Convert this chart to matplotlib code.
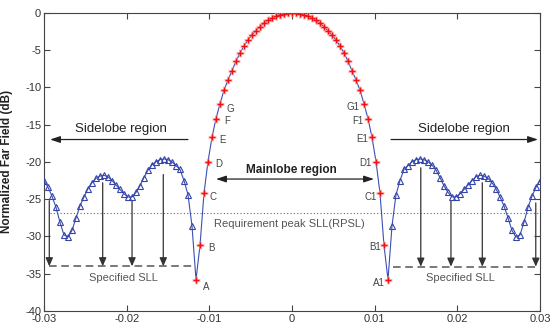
import numpy as np
import matplotlib
matplotlib.use("Agg")
import matplotlib.pyplot as plt

plt.rcParams['font.family'] = ['Liberation Sans', 'DejaVu Sans']
plt.rcParams['axes.unicode_minus'] = False

# ---- data (half pattern, k = 0 .. 62 from boresight; pattern is symmetric) ----
main_half = [0.0, -0.03, -0.11, -0.25, -0.45, -0.7, -1.0, -1.42, -1.87, -2.4,
             -2.98, -3.65, -4.45, -5.4, -6.5, -7.76, -9.0, -10.4, -12.2, -14.2,
             -16.7, -19.95, -24.2, -31.2, -35.8]
side_half = [-28.6, -24.4, -22.5, -21.0, -20.5, -20.0, -19.7, -19.6, -19.7, -20.0,
             -20.4, -21.1, -22.1, -23.2, -24.1, -24.7, -24.7, -24.3, -23.7, -23.1,
             -22.5, -22.0, -21.8, -21.9, -22.2, -22.8, -23.6, -24.7, -25.9, -27.5,
             -29.2, -30.1, -29.8, -28.1, -26.1, -24.6, -23.4, -22.5]
u_max = 0.03
n_main = len(main_half)

half = np.array(main_half + side_half)
ff = np.concatenate([half[::-1], half[1:]])
u = np.linspace(-u_max, u_max, len(ff))
kk = np.abs(np.arange(len(ff)) - (len(ff) - 1) // 2)
is_main = kk < n_main

rpsl = -26.8
sll_left = -34.0
sll_right = -34.05

left_labels = ['A', 'B', 'C', 'D', 'E', 'F', 'G']
left_label_pos = [(-0.0104, -36.8), (-0.00976, -31.6), (-0.00952, -24.7), (-0.00891, -20.25),
                  (-0.00838, -17.0), (-0.0079, -14.45), (-0.00742, -12.85)]
right_labels = ['A1', 'B1', 'C1', 'D1', 'E1', 'F1', 'G1']
right_label_pos = [(0.01052, -36.3), (0.01004, -31.4), (0.00955, -24.7), (0.0089, -20.1),
                   (0.0085, -16.95), (0.00802, -14.5), (0.00742, -12.66)]

left_arrows = [(-0.02936, -25.2), (-0.0229, -22.8), (-0.01935, -25.25), (-0.01557, -21.7)]
right_arrows = [(0.01558, -20.8), (0.01923, -25.2), (0.02302, -22.8), (0.02949, -25.5)]

# ---- figure ----
fig = plt.figure(figsize=(5.5, 3.36), dpi=100)
ax = fig.add_axes([0.08, 0.0744, 0.9018, 0.8876])

line_c = '#3b4fb4'
ax.plot(u, ff, color=line_c, lw=0.8, zorder=3)
ax.plot(u[~is_main], ff[~is_main], ls='none', marker='^', ms=5.0, mfc='none',
        mec='#3545a8', mew=0.8, zorder=4)
ax.plot(u[is_main], ff[is_main], ls='none', marker='+', ms=6, color='#ff9999',
        mew=2.2, alpha=0.6, zorder=4)
ax.plot(u[is_main], ff[is_main], ls='none', marker='+', ms=5, color='#ee1111',
        mew=1.0, zorder=5)

# RPSL dotted line
ax.plot([-0.0293, 0.0297], [rpsl, rpsl], ls=(0, (1, 2)), color='#666666', lw=0.8, zorder=2)
ax.text(-0.0003, -28.3, 'Requirement peak SLL(RPSL)', ha='center', va='center',
        fontsize=8, color='#555555')

# Specified SLL dashed lines
ax.plot([-0.0294, -0.01214], [sll_left, sll_left], ls=(0, (5, 3)), color='#555555', lw=1.1)
ax.plot([0.01226, 0.0296], [sll_right, sll_right], ls=(0, (5, 3)), color='#555555', lw=1.1)
ax.text(-0.02044, -35.55, 'Specified SLL', ha='center', va='center', fontsize=8, color='#555555')
ax.text(0.02042, -35.6, 'Specified SLL', ha='center', va='center', fontsize=8, color='#555555')

for x0, y0 in left_arrows:
    ax.annotate('', xy=(x0, sll_left), xytext=(x0, y0),
                arrowprops=dict(arrowstyle='-|>,head_length=0.5,head_width=0.22',
                                color='#333333', lw=0.9, shrinkA=0, shrinkB=0))
for x0, y0 in right_arrows:
    ax.annotate('', xy=(x0, sll_right), xytext=(x0, y0),
                arrowprops=dict(arrowstyle='-|>,head_length=0.5,head_width=0.22',
                                color='#333333', lw=0.9, shrinkA=0, shrinkB=0))

# region arrows
ax.annotate('', xy=(-0.02927, -17.0), xytext=(-0.01258, -17.0),
            arrowprops=dict(arrowstyle='-|>,head_length=0.6,head_width=0.2',
                            color='#222222', lw=0.9, shrinkA=0, shrinkB=0))
ax.text(-0.0207, -15.65, 'Sidelobe region', ha='center', va='center', fontsize=9.5, color='#222222')
ax.annotate('', xy=(0.02976, -17.0), xytext=(0.01198, -17.0),
            arrowprops=dict(arrowstyle='-|>,head_length=0.6,head_width=0.2',
                            color='#222222', lw=0.9, shrinkA=0, shrinkB=0))
ax.text(0.0208, -15.65, 'Sidelobe region', ha='center', va='center', fontsize=9.5, color='#222222')
ax.annotate('', xy=(-0.00919, -22.3), xytext=(0.00992, -22.3),
            arrowprops=dict(arrowstyle='<|-|>,head_length=0.6,head_width=0.2',
                            color='#222222', lw=0.9, shrinkA=0, shrinkB=0))
ax.text(-0.0001, -21.1, 'Mainlobe region', ha='center', va='center', fontsize=8.5,
        fontweight='bold', color='#222222')

for lab, (x0, y0) in zip(left_labels, left_label_pos):
    ax.text(x0, y0, lab, ha='center', va='center', fontsize=7, color='#444444')
for lab, (x0, y0) in zip(right_labels, right_label_pos):
    ax.text(x0, y0, lab, ha='center', va='center', fontsize=7, color='#444444')

ax.set_xlim(-0.03, 0.03)
ax.set_ylim(-40, 0)
ax.set_xticks([-0.03, -0.02, -0.01, 0, 0.01, 0.02, 0.03])
ax.set_xticklabels(['-0.03', '-0.02', '-0.01', '0', '0.01', '0.02', '0.03'])
ax.set_yticks(np.arange(-40, 1, 5))
ax.set_yticklabels([str(v) for v in range(-40, 1, 5)])
ax.tick_params(direction='in', top=True, right=True, length=4, width=0.8,
               colors='#444444', labelsize=8, labelcolor='#333333', pad=2)
for s in ax.spines.values():
    s.set_color('#444444')
    s.set_linewidth(0.8)

ax.set_ylabel('Normalized Far Field (dB)', fontsize=8.5, fontweight='bold', color='#222222')
ax.yaxis.set_label_coords(-0.062, 0.5)
ax.set_xlabel('u', fontsize=9, color='#222222')
ax.xaxis.set_label_coords(0.5, -0.095)

fig.savefig('out.png', dpi=100)
